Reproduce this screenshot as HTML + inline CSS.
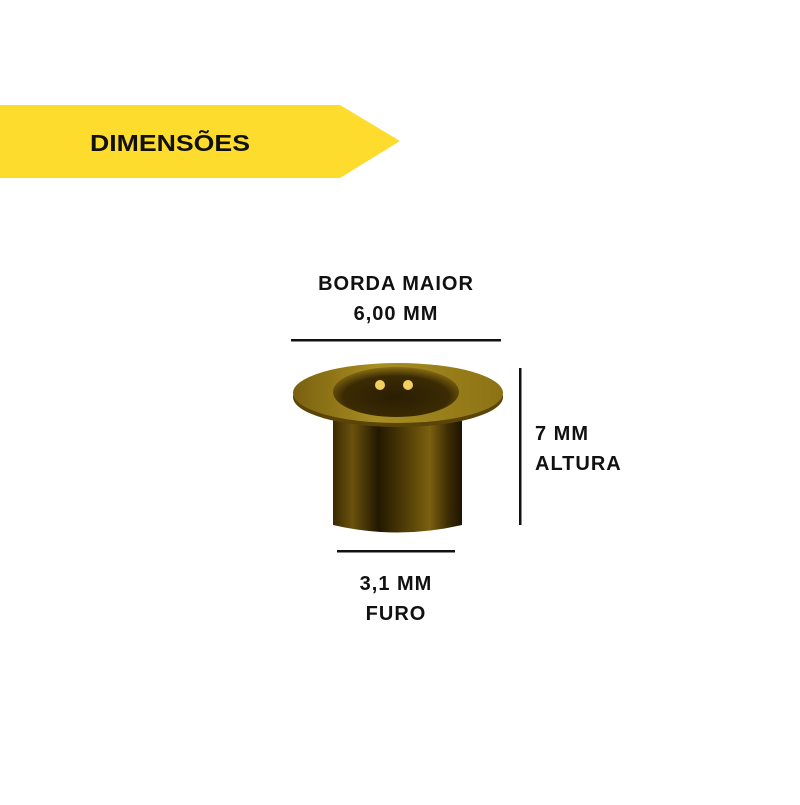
<!DOCTYPE html>
<html><head><meta charset="utf-8"><style>
body{margin:0;width:800px;height:800px;background:#fff;overflow:hidden}
</style></head><body>
<svg width="800" height="800" xmlns="http://www.w3.org/2000/svg" style="font-family:'Liberation Sans',sans-serif;font-weight:bold;">
<defs>
<linearGradient id="body" x1="0" x2="1" y1="0" y2="0">
<stop offset="0" stop-color="#3a2a02"/><stop offset="0.15" stop-color="#6a520c"/>
<stop offset="0.35" stop-color="#221802"/><stop offset="0.55" stop-color="#4e3b06"/>
<stop offset="0.75" stop-color="#7a600f"/><stop offset="0.9" stop-color="#3a2a04"/>
<stop offset="1" stop-color="#1e1401"/></linearGradient>
<linearGradient id="fl" x1="0" x2="1"><stop offset="0" stop-color="#7a600e"/><stop offset="0.4" stop-color="#a88e22"/><stop offset="1" stop-color="#8c7214"/></linearGradient>
<radialGradient id="hole" cx="0.5" cy="0.6" r="0.6"><stop offset="0" stop-color="#2a1e02"/><stop offset="0.7" stop-color="#3b2b04"/><stop offset="1" stop-color="#8a6e12"/></radialGradient>
</defs>
<polygon points="0,105 340,105 400,141 340,178 0,178" fill="#FDDC2E"/>
<text x="90" y="151" font-size="23" fill="#111" textLength="160" lengthAdjust="spacingAndGlyphs">DIMENSÕES</text>
<text x="396" y="290" font-size="20" text-anchor="middle" fill="#111" letter-spacing="1">BORDA MAIOR</text>
<text x="396" y="320" font-size="20" text-anchor="middle" fill="#111" letter-spacing="1">6,00 MM</text>
<rect x="291" y="339" width="210" height="2.5" fill="#111"/>
<rect x="519" y="368" width="2.5" height="157" fill="#111"/>
<rect x="337" y="550" width="118" height="2.5" fill="#111"/>
<text x="535" y="440" font-size="20" fill="#111" letter-spacing="1">7 MM</text>
<text x="535" y="470" font-size="20" fill="#111" letter-spacing="1">ALTURA</text>
<text x="396" y="590" font-size="20" text-anchor="middle" fill="#111" letter-spacing="1">3,1 MM</text>
<text x="396" y="620" font-size="20" text-anchor="middle" fill="#111" letter-spacing="1">FURO</text>
<path d="M333,420 L333,525 Q397,540 462,525 L462,420 Z" fill="url(#body)"/>
<ellipse cx="398" cy="397" rx="105" ry="30" fill="#5a4408"/>
<ellipse cx="398" cy="393" rx="105" ry="30" fill="url(#fl)"/>
<ellipse cx="396" cy="392" rx="63" ry="25" fill="url(#hole)"/>
<circle cx="380" cy="385" r="5" fill="#f2d060"/>
<circle cx="408" cy="385" r="5" fill="#f2d060"/>
</svg>
</body></html>
